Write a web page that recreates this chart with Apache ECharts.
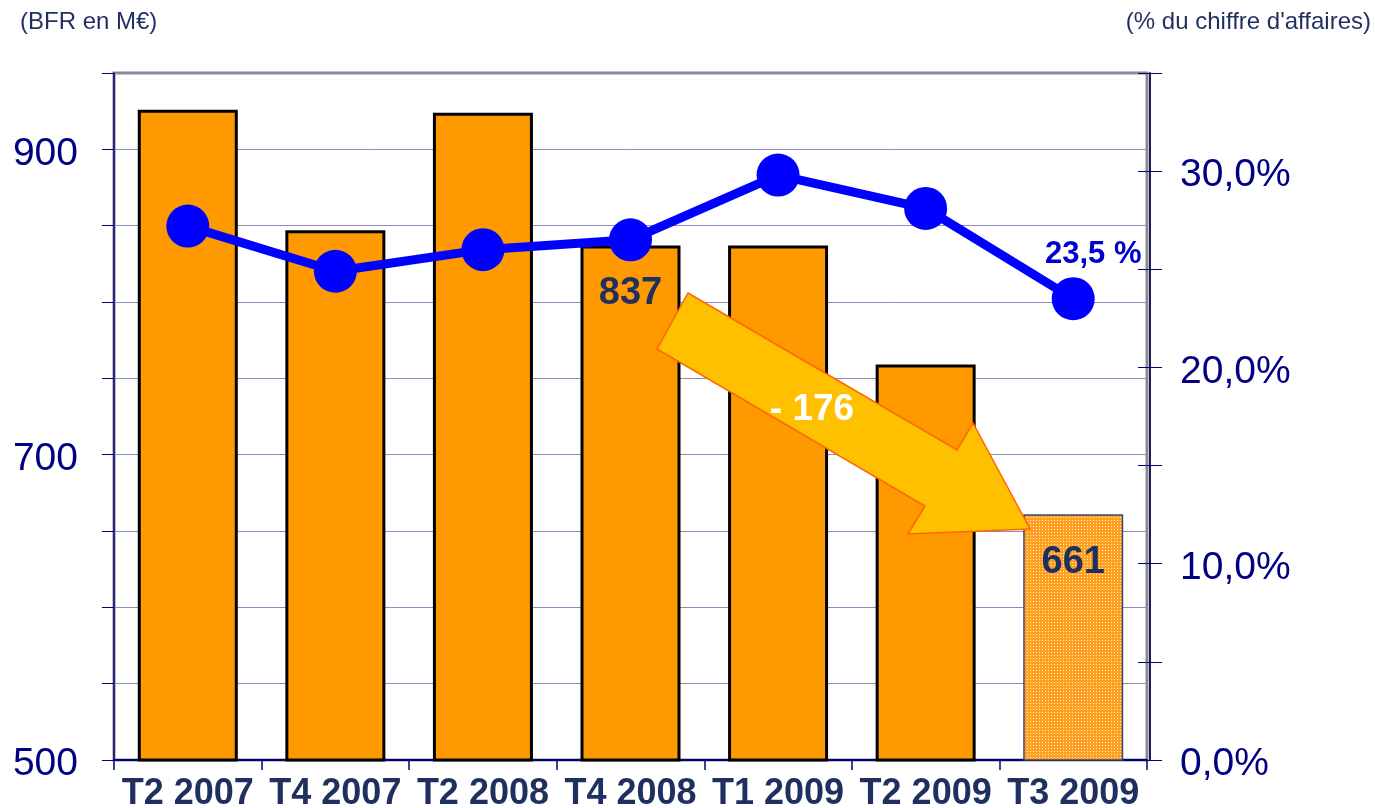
<!DOCTYPE html>
<html>
<head>
<meta charset="utf-8">
<script src="https://cdn.jsdelivr.net/npm/echarts@6/dist/echarts.min.js"></script>
<style>
  html, body { margin: 0; padding: 0; background: #fff; }
  #main { width: 1375px; height: 808px; }
</style>
</head>
<body>
<div id="main"></div>
<script>
    // données
    var categories = ['T2 2007', 'T4 2007', 'T2 2008', 'T4 2008', 'T1 2009', 'T2 2009', 'T3 2009'];
    var bfr = [926, 847, 924, 837, 837, 759, 661];          // BFR en M€
    var ratio = [27.2, 24.9, 26.0, 26.5, 29.8, 28.1, 23.5];  // % du CA
    var leftTicks = [500, 700, 900];
    var rightTicks = [0, 10, 20, 30];

    var myChart = echarts.init(document.getElementById('main'));

    // motif pointillé pour la dernière barre
    var pat = document.createElement('canvas');
    pat.width = 3; pat.height = 3;
    var ctx = pat.getContext('2d');
    ctx.fillStyle = '#ffa020';
    ctx.fillRect(0, 0, 3, 3);
    ctx.fillStyle = '#fff0d8';
    ctx.fillRect(1, 1, 1, 1);

    var navy = '#000080';
    var slate = '#1f2f5f';
    var font = '"Liberation Sans", Arial, sans-serif';

    var barData = bfr.map(function (v, i) {
        var item = { value: v };
        if (i === categories.length - 1) {
            item.itemStyle = { color: { image: pat, repeat: 'repeat' }, borderColor: '#3a4a6e', borderWidth: 1.5 };
        }
        if (i === 3 || i === categories.length - 1) {
            item.label = { show: true };
        }
        return item;
    });

    var lineData = ratio.map(function (v, i) {
        var item = { value: v };
        if (i === ratio.length - 1) {
            item.label = {
                show: true, position: 'top', offset: [20, -2],
                formatter: function (p) { return p.value.toFixed(1).replace('.', ',') + ' %'; },
                color: '#0000cc', fontWeight: 'bold', fontSize: 31, fontFamily: font
            };
        }
        return item;
    });

    var axisRich = { a: { color: navy, fontSize: 39, fontFamily: font, padding: [9, 0, 0, 0] } };

    option = {
        animation: false,
        textStyle: { fontFamily: font },
        grid: {
            left: 114, right: 228, top: 73, bottom: 48, outerBoundsMode: 'none',
            show: true, borderColor: '#8a8a8a', borderWidth: 3
        },
        graphic: [
            { type: 'text', left: 20, top: 10, style: { text: '(BFR en M€)', fill: slate, font: '24px ' + font } },
            { type: 'text', right: 4, top: 10, style: { text: "(% du chiffre d'affaires)", fill: slate, font: '24px ' + font } },
            {
                type: 'polygon', z: 50,
                shape: { points: [[688, 293], [957, 450], [973, 423], [1030, 529], [908, 534], [925, 506], [657, 349]] },
                style: { fill: '#ffc000', stroke: '#ff6600', lineWidth: 1.5 }
            },
            { type: 'text', z: 51, x: 812, y: 410, style: { text: '- 176', fill: '#fff', font: 'bold 37px ' + font, align: 'center', verticalAlign: 'middle' } }
        ],
        xAxis: {
            type: 'category',
            data: categories,
            axisLine: { lineStyle: { color: navy, width: 2 } },
            axisTick: { show: true, length: 10, lineStyle: { color: navy, width: 1.5 } },
            axisLabel: { color: slate, fontWeight: 'bold', fontSize: 36, margin: 16, interval: 0 }
        },
        yAxis: [
            {
                type: 'value', min: 500, max: 950, interval: 50, position: 'left',
                axisLine: { show: true, lineStyle: { color: navy, width: 1.5 } },
                axisTick: { show: true, length: 12, lineStyle: { color: navy } },
                axisLabel: {
                    margin: 36, rich: axisRich,
                    formatter: function (v) { return leftTicks.indexOf(v) >= 0 ? '{a|' + v + '}' : ''; }
                },
                splitLine: { lineStyle: { color: '#8c8cbc', width: 1 } }
            },
            {
                type: 'value', min: 0, max: 35, interval: 5, position: 'right', offset: 3,
                axisLine: { show: true, lineStyle: { color: '#1a1a60', width: 2 } },
                axisTick: { show: true, length: 12, lineStyle: { color: navy } },
                axisLabel: {
                    margin: 30, rich: axisRich,
                    formatter: function (v) { return rightTicks.indexOf(v) >= 0 ? '{a|' + v.toFixed(1).replace('.', ',') + '%}' : ''; }
                },
                splitLine: { show: false }
            },
            {
                type: 'value', min: 0, max: 35, interval: 5, position: 'right', offset: 3,
                axisLine: { show: false },
                axisTick: { show: true, inside: true, length: 12, lineStyle: { color: navy } },
                axisLabel: { show: false },
                splitLine: { show: false }
            }
        ],
        series: [
            {
                type: 'bar',
                data: barData,
                barWidth: 100,
                yAxisIndex: 0,
                itemStyle: { color: '#ff9900', borderColor: '#000', borderWidth: 3 },
                label: {
                    show: false, position: 'insideTop', distance: 29,
                    color: slate, fontWeight: 'bold', fontSize: 38
                }
            },
            {
                type: 'line',
                data: lineData,
                yAxisIndex: 1,
                symbol: 'circle',
                symbolSize: 43,
                lineStyle: { color: '#0000ff', width: 9 },
                itemStyle: { color: '#0000ff' },
                z: 10
            }
        ]
    };

    myChart.setOption(option);
</script>
</body>
</html>
